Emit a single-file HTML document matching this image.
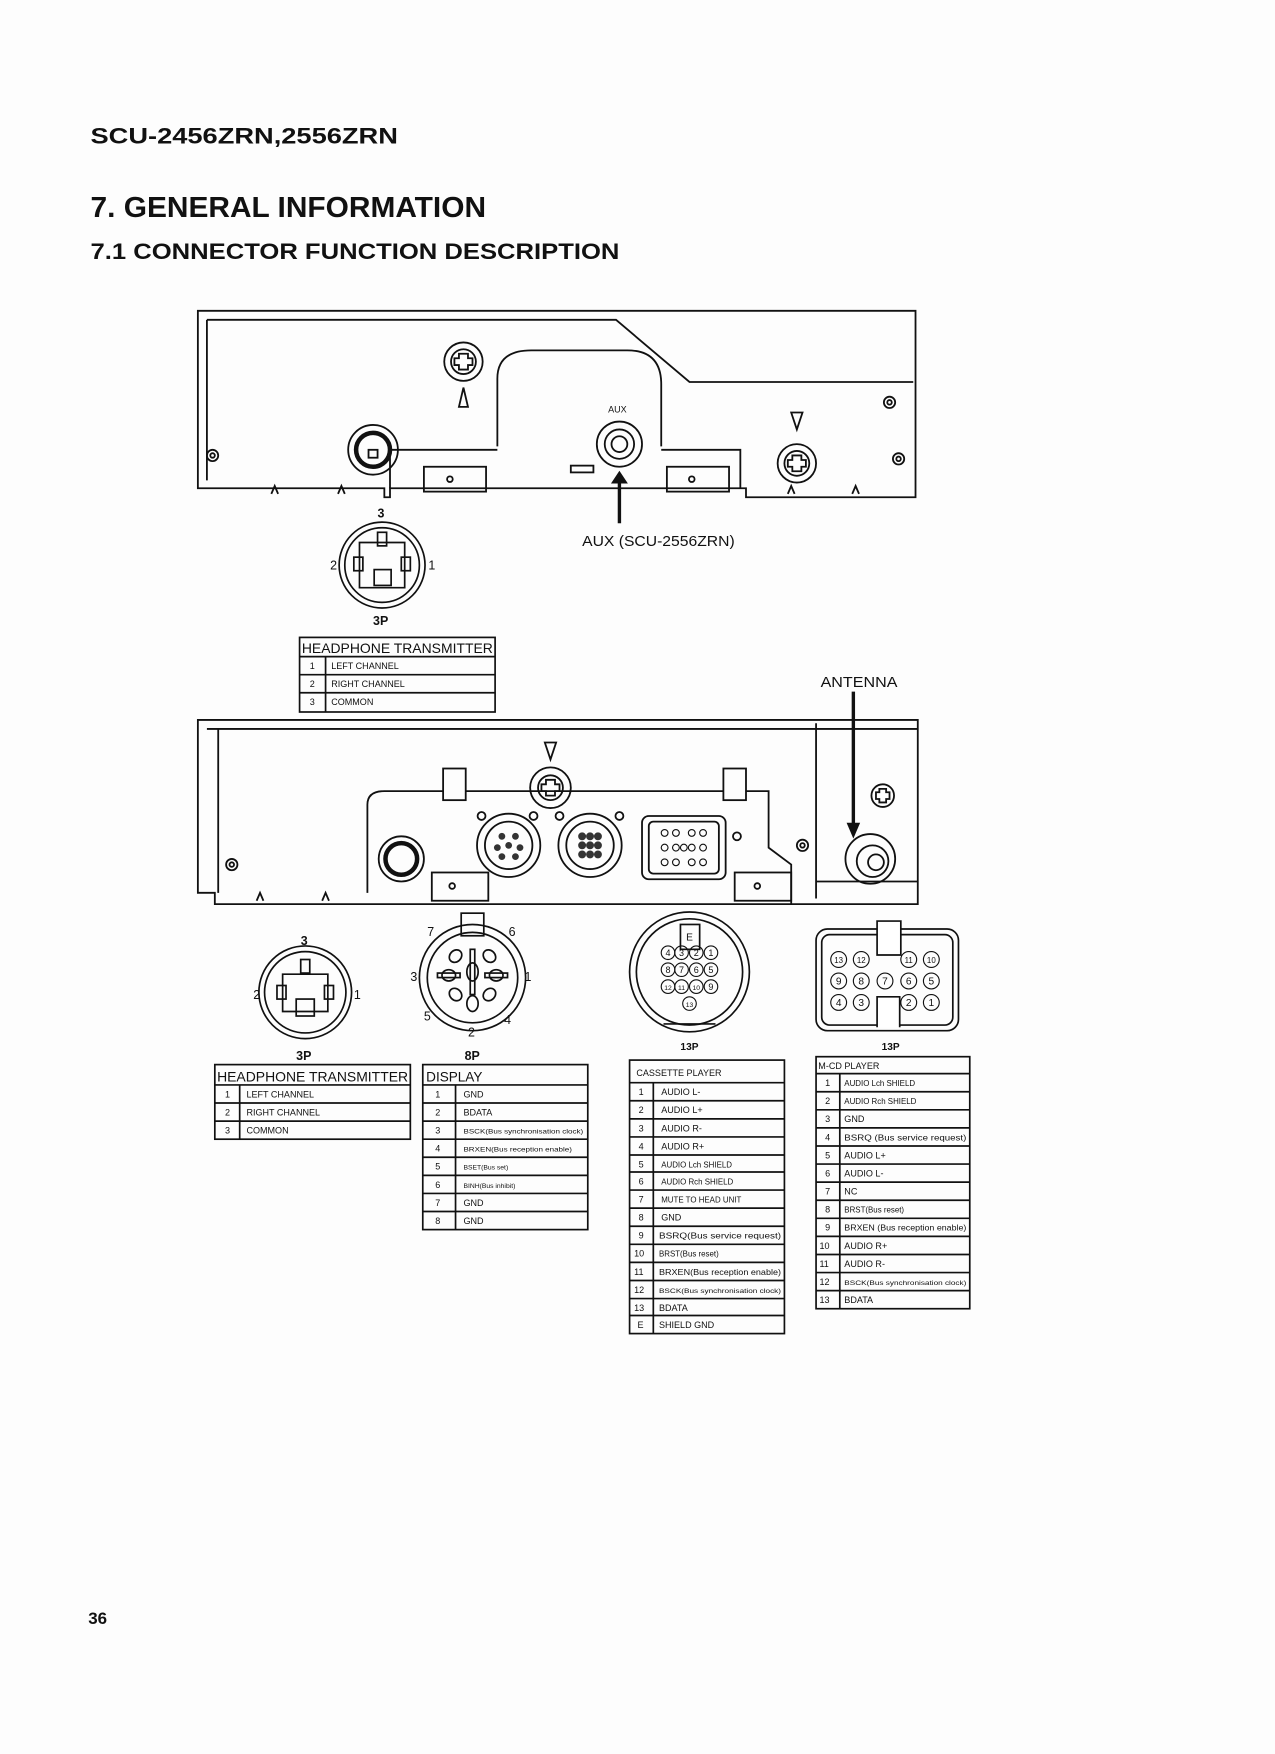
<!DOCTYPE html>
<html><head><meta charset="utf-8"><style>
html,body{margin:0;padding:0;background:#fff}
svg{display:block}
text{font-family:"Liberation Sans",sans-serif;fill:#111}
</style></head><body>
<svg width="1275" height="1754" viewBox="0 0 1128 1552" xmlns="http://www.w3.org/2000/svg">
<rect width="1128" height="1552" fill="#fdfdfd"/>
<text x="80" y="127" font-size="20" font-weight="bold" textLength="272" lengthAdjust="spacingAndGlyphs">SCU-2456ZRN,2556ZRN</text>
<text x="80" y="192" font-size="25" font-weight="bold" textLength="350" lengthAdjust="spacingAndGlyphs">7. GENERAL INFORMATION</text>
<text x="80" y="229" font-size="20" font-weight="bold" textLength="468" lengthAdjust="spacingAndGlyphs">7.1 CONNECTOR FUNCTION DESCRIPTION</text>

<!-- TOP CHASSIS -->
<g stroke="#111" fill="none" stroke-width="1.6">
<path d="M175 275 H810 V440 H660 V432 H345 V440 H340 V432 H175 Z"/>
<path d="M183 283 H545 L610 338 H808"/>
<path d="M183 283 V425"/>
<path d="M440 395 V335 Q440 310 470 310 H555 Q585 310 585 340 V395"/>
<path d="M345 432 V398 H440 M585 398 H655 V432"/>
<rect x="375" y="413" width="55" height="22"/><circle cx="398" cy="424" r="2.5"/>
<rect x="590" y="413" width="55" height="22"/><circle cx="612" cy="424" r="2.5"/>
<circle cx="410" cy="320" r="17"/><circle cx="410" cy="320" r="11"/>
<path d="M406 313 h8 v4 h4 v6 h-4 v4 h-8 v-4 h-4 v-6 h4 z"/>
<path d="M410 343 L406 360 H414 Z"/>
<circle cx="548" cy="393" r="20"/><circle cx="548" cy="393" r="13"/><circle cx="548" cy="393" r="7"/>
<path d="M548 425 V463" stroke-width="3"/>
<path d="M542 427 L548 418 L554 427 Z" fill="#111"/>
<circle cx="705" cy="410" r="17"/><circle cx="705" cy="410" r="11"/>
<path d="M701 403 h8 v4 h4 v6 h-4 v4 h-8 v-4 h-4 v-6 h4 z"/>
<path d="M700 365 H710 L705 380 Z"/>
<circle cx="188" cy="403" r="5"/><circle cx="188" cy="403" r="2"/>
<circle cx="787" cy="356" r="5"/><circle cx="787" cy="356" r="2"/>
<circle cx="795" cy="406" r="5"/><circle cx="795" cy="406" r="2"/>
<circle cx="330" cy="398" r="22"/><circle cx="330" cy="398" r="15" stroke-width="4"/>
<rect x="326" y="398" width="8" height="7"/>
<path d="M240 437 l3 -7 l3 7 M299 437 l3 -7 l3 7 M697 437 l3 -7 l3 7 M754 437 l3 -7 l3 7"/>
<rect x="505" y="412" width="20" height="6"/>
</g>
<text x="538" y="365" font-size="8">AUX</text>
<text x="515" y="483" font-size="13" textLength="135" lengthAdjust="spacingAndGlyphs">AUX (SCU-2556ZRN)</text>

<g stroke="#111" fill="none" stroke-width="1.5">
<circle cx="338" cy="500" r="38"/><circle cx="338" cy="500" r="33"/>
<path d="M318 480 H358 V520 H318 Z"/>
<rect x="334" y="471" width="8" height="12"/>
<rect x="313" y="493" width="8" height="12"/><rect x="355" y="493" width="8" height="12"/>
<rect x="331" y="504" width="15" height="14"/>
</g>
<text x="334" y="458" font-size="11" font-weight="bold">3</text>
<text x="292" y="504" font-size="11">2</text>
<text x="379" y="504" font-size="11">1</text>
<text x="330" y="553" font-size="11" font-weight="bold">3P</text>

<g stroke="#111" fill="none" stroke-width="1.5">
<rect x="265" y="564" width="173" height="66"/>
<path d="M265 581 H438 M265 597 H438 M265 613 H438 M288 581 V630"/>
</g>
<text x="267" y="578" font-size="12" textLength="169" lengthAdjust="spacingAndGlyphs">HEADPHONE TRANSMITTER</text>
<g font-size="8"><text x="274" y="592">1</text><text x="293" y="592">LEFT CHANNEL</text>
<text x="274" y="608">2</text><text x="293" y="608">RIGHT CHANNEL</text>
<text x="274" y="624">3</text><text x="293" y="624">COMMON</text></g>

<text x="726" y="608" font-size="13" textLength="68" lengthAdjust="spacingAndGlyphs">ANTENNA</text>
<path d="M755 612 V735" stroke="#111" stroke-width="3"/>
<path d="M749 728 L755 742 L761 728 Z" fill="#111"/>

<!-- BOTTOM CHASSIS -->
<g stroke="#111" fill="none" stroke-width="1.6">
<path d="M175 637 H812 V800 H190 V790 H175 Z"/>
<path d="M183 645 H812"/>
<path d="M193 645 V790 M722 640 V795 M722 780 H812"/>
<path d="M325 790 V712 Q325 700 340 700 H392 M412 700 H640 M660 700 H680 V750 L700 765 V800"/>
<rect x="392" y="680" width="20" height="28"/><rect x="640" y="680" width="20" height="28"/>
<rect x="382" y="772" width="50" height="25"/><circle cx="400" cy="784" r="2.5"/>
<rect x="650" y="772" width="50" height="25"/><circle cx="670" cy="784" r="2.5"/>
<circle cx="487" cy="697" r="18"/><circle cx="487" cy="697" r="11"/>
<path d="M483 690 h8 v4 h4 v6 h-4 v4 h-8 v-4 h-4 v-6 h4 z"/>
<path d="M482 657 H492 L487 672 Z"/>
<circle cx="355" cy="760" r="20"/><circle cx="355" cy="760" r="14" stroke-width="4"/>
<circle cx="450" cy="748" r="28"/><circle cx="450" cy="748" r="21"/>
<circle cx="522" cy="748" r="28"/><circle cx="522" cy="748" r="21"/>
<g fill="#333" stroke="none">
<circle cx="515" cy="740" r="3.5"/><circle cx="522" cy="740" r="3.5"/><circle cx="529" cy="740" r="3.5"/>
<circle cx="515" cy="748" r="3.5"/><circle cx="522" cy="748" r="3.5"/><circle cx="529" cy="748" r="3.5"/>
<circle cx="515" cy="756" r="3.5"/><circle cx="522" cy="756" r="3.5"/><circle cx="529" cy="756" r="3.5"/>
<circle cx="444" cy="740" r="3"/><circle cx="456" cy="740" r="3"/><circle cx="440" cy="750" r="3"/><circle cx="460" cy="750" r="3"/><circle cx="450" cy="748" r="3"/><circle cx="444" cy="758" r="3"/><circle cx="456" cy="758" r="3"/>
</g>
<rect x="568" y="722" width="74" height="56" rx="6"/><rect x="574" y="727" width="62" height="46" rx="4"/>
<g stroke-width="1"><circle cx="588" cy="737" r="3"/><circle cx="598" cy="737" r="3"/><circle cx="612" cy="737" r="3"/><circle cx="622" cy="737" r="3"/>
<circle cx="588" cy="750" r="3"/><circle cx="598" cy="750" r="3"/><circle cx="605" cy="750" r="3"/><circle cx="612" cy="750" r="3"/><circle cx="622" cy="750" r="3"/>
<circle cx="588" cy="763" r="3"/><circle cx="598" cy="763" r="3"/><circle cx="612" cy="763" r="3"/><circle cx="622" cy="763" r="3"/></g>
<circle cx="426" cy="722" r="3.5"/><circle cx="472" cy="722" r="3.5"/><circle cx="495" cy="722" r="3.5"/><circle cx="548" cy="722" r="3.5"/>
<circle cx="652" cy="740" r="3.5"/><circle cx="710" cy="748" r="5"/><circle cx="710" cy="748" r="2"/>
<circle cx="205" cy="765" r="5"/><circle cx="205" cy="765" r="2"/>
<circle cx="770" cy="760" r="22"/><circle cx="772" cy="762" r="14"/><circle cx="775" cy="763" r="7"/>
<circle cx="781" cy="704" r="10"/><path d="M778 698 h6 v3 h3 v6 h-3 v3 h-6 v-3 h-3 v-6 h3 z"/>
<path d="M227 797 l3 -7 l3 7 M285 797 l3 -7 l3 7"/>
</g>

<g stroke="#111" fill="none" stroke-width="1.5">
<circle cx="270" cy="878" r="41"/><circle cx="270" cy="878" r="36"/>
<path d="M250 862 H290 V895 H250 Z"/>
<rect x="266" y="849" width="8" height="12"/>
<rect x="245" y="872" width="8" height="12"/><rect x="287" y="872" width="8" height="12"/>
<rect x="262" y="884" width="16" height="15"/>
</g>
<text x="266" y="836" font-size="11" font-weight="bold">3</text>
<text x="224" y="884" font-size="11">2</text>
<text x="313" y="884" font-size="11">1</text>
<text x="262" y="938" font-size="11" font-weight="bold">3P</text>

<g stroke="#111" fill="none" stroke-width="1.5">
<circle cx="418" cy="865" r="47"/><circle cx="418" cy="865" r="40"/>
<rect x="408" y="808" width="20" height="20"/>
<ellipse cx="418" cy="860" rx="5" ry="8"/><rect x="416" y="840" width="4" height="40"/>
<ellipse cx="397" cy="863" rx="6" ry="5"/><rect x="387" y="861" width="20" height="4"/>
<ellipse cx="439" cy="863" rx="6" ry="5"/><rect x="429" y="861" width="20" height="4"/>
<ellipse cx="403" cy="846" rx="6" ry="5" transform="rotate(-45 403 846)"/><ellipse cx="433" cy="846" rx="6" ry="5" transform="rotate(45 433 846)"/>
<ellipse cx="403" cy="880" rx="6" ry="5" transform="rotate(45 403 880)"/><ellipse cx="433" cy="880" rx="6" ry="5" transform="rotate(-45 433 880)"/>
<ellipse cx="418" cy="888" rx="5" ry="7"/>
</g>
<g font-size="11"><text x="378" y="828">7</text><text x="450" y="828">6</text><text x="363" y="868">3</text><text x="464" y="868">1</text>
<text x="375" y="903">5</text><text x="446" y="906">4</text><text x="414" y="917">2</text></g>
<text x="411" y="938" font-size="11" font-weight="bold">8P</text>

<g stroke="#111" fill="none" stroke-width="1.5">
<circle cx="610" cy="860" r="53"/><circle cx="610" cy="860" r="47"/>
<rect x="602" y="818" width="17" height="22"/>
<path d="M587 906 H633"/>
</g>
<g stroke="#111" stroke-width="1" fill="none">
<circle cx="591" cy="843" r="6"/><circle cx="603" cy="843" r="6"/><circle cx="616" cy="843" r="6"/><circle cx="629" cy="843" r="6"/>
<circle cx="591" cy="858" r="6"/><circle cx="603" cy="858" r="6"/><circle cx="616" cy="858" r="6"/><circle cx="629" cy="858" r="6"/>
<circle cx="591" cy="873" r="6"/><circle cx="603" cy="873" r="6"/><circle cx="616" cy="873" r="6"/><circle cx="629" cy="873" r="6"/>
<circle cx="610" cy="888" r="6"/>
</g>
<g font-size="8" text-anchor="middle">
<text x="610" y="832" font-size="9">E</text>
<text x="591" y="846">4</text><text x="603" y="846">3</text><text x="616" y="846">2</text><text x="629" y="846">1</text>
<text x="591" y="861">8</text><text x="603" y="861">7</text><text x="616" y="861">6</text><text x="629" y="861">5</text>
<text x="591" y="876" font-size="6">12</text><text x="603" y="876" font-size="6">11</text><text x="616" y="876" font-size="6">10</text><text x="629" y="876">9</text>
<text x="610" y="891" font-size="6">13</text>
<text x="610" y="929" font-size="9" font-weight="bold">13P</text>
</g>

<g stroke="#111" fill="none" stroke-width="1.5">
<rect x="722" y="822" width="126" height="90" rx="10"/><rect x="727" y="827" width="116" height="80" rx="7"/>
<path d="M776 815 H797 V845 H776 Z" fill="#fff"/>
<path d="M776 909 V882 H796 V909" fill="#fff"/>
</g>
<g stroke="#111" stroke-width="1" fill="none">
<circle cx="742" cy="849" r="7"/><circle cx="762" cy="849" r="7"/><circle cx="804" cy="849" r="7"/><circle cx="824" cy="849" r="7"/>
<circle cx="742" cy="868" r="7"/><circle cx="762" cy="868" r="7"/><circle cx="783" cy="868" r="7"/><circle cx="804" cy="868" r="7"/><circle cx="824" cy="868" r="7"/>
<circle cx="742" cy="887" r="7"/><circle cx="762" cy="887" r="7"/><circle cx="804" cy="887" r="7"/><circle cx="824" cy="887" r="7"/>
</g>
<g font-size="9" text-anchor="middle">
<text x="742" y="852" font-size="7">13</text><text x="762" y="852" font-size="7">12</text><text x="804" y="852" font-size="7">11</text><text x="824" y="852" font-size="7">10</text>
<text x="742" y="871">9</text><text x="762" y="871">8</text><text x="783" y="871">7</text><text x="804" y="871">6</text><text x="824" y="871">5</text>
<text x="742" y="890">4</text><text x="762" y="890">3</text><text x="804" y="890">2</text><text x="824" y="890">1</text>
<text x="788" y="929" font-size="9" font-weight="bold">13P</text>
</g>

<g stroke="#111" fill="none" stroke-width="1.5">
<rect x="190" y="942" width="173" height="66"/>
<path d="M190 960 H363 M190 976 H363 M190 992 H363 M212 960 V1008"/>
</g>
<text x="192" y="957" font-size="12" textLength="169" lengthAdjust="spacingAndGlyphs">HEADPHONE TRANSMITTER</text>
<g font-size="8"><text x="199" y="971">1</text><text x="218" y="971">LEFT CHANNEL</text>
<text x="199" y="987">2</text><text x="218" y="987">RIGHT CHANNEL</text>
<text x="199" y="1003">3</text><text x="218" y="1003">COMMON</text></g>

<g stroke="#111" fill="none" stroke-width="1.5">
<rect x="374" y="942" width="146" height="146"/>
<path d="M374 960 H520 M374 976 H520 M374 992 H520 M374 1008 H520 M374 1024 H520 M374 1040 H520 M374 1056 H520 M374 1072 H520 M403 960 V1088"/>
</g>
<text x="377" y="957" font-size="12">DISPLAY</text>
<g font-size="8">
<text x="385" y="971">1</text><text x="410" y="971">GND</text>
<text x="385" y="987">2</text><text x="410" y="987">BDATA</text>
<text x="385" y="1003">3</text><text x="410" y="1003" font-size="6" textLength="106" lengthAdjust="spacingAndGlyphs">BSCK(Bus synchronisation clock)</text>
<text x="385" y="1019">4</text><text x="410" y="1019" font-size="6" textLength="96" lengthAdjust="spacingAndGlyphs">BRXEN(Bus reception enable)</text>
<text x="385" y="1035">5</text><text x="410" y="1035" font-size="6">BSET(Bus set)</text>
<text x="385" y="1051">6</text><text x="410" y="1051" font-size="6">BINH(Bus inhibit)</text>
<text x="385" y="1067">7</text><text x="410" y="1067">GND</text>
<text x="385" y="1083">8</text><text x="410" y="1083">GND</text>
</g>

<g stroke="#111" fill="none" stroke-width="1.5">
<rect x="557" y="938" width="137" height="242"/>
<path d="M557 958 H694 M557 974 H694 M557 990 H694 M557 1006 H694 M557 1022 H694 M557 1037 H694 M557 1053 H694 M557 1069 H694 M557 1085 H694 M557 1101 H694 M557 1117 H694 M557 1133 H694 M557 1149 H694 M557 1164 H694 M578 958 V1180"/>
</g>
<text x="563" y="952" font-size="8">CASSETTE PLAYER</text>
<g font-size="8">
<text x="565" y="969">1</text><text x="585" y="969">AUDIO L-</text>
<text x="565" y="985">2</text><text x="585" y="985">AUDIO L+</text>
<text x="565" y="1001">3</text><text x="585" y="1001">AUDIO R-</text>
<text x="565" y="1017">4</text><text x="585" y="1017">AUDIO R+</text>
<text x="565" y="1033">5</text><text x="585" y="1033" font-size="7">AUDIO Lch SHIELD</text>
<text x="565" y="1048">6</text><text x="585" y="1048" font-size="7">AUDIO Rch SHIELD</text>
<text x="565" y="1064">7</text><text x="585" y="1064" font-size="7">MUTE TO HEAD UNIT</text>
<text x="565" y="1080">8</text><text x="585" y="1080">GND</text>
<text x="565" y="1096">9</text><text x="583" y="1096" font-size="7" textLength="108" lengthAdjust="spacingAndGlyphs">BSRQ(Bus service request)</text>
<text x="561" y="1112">10</text><text x="583" y="1112" font-size="7">BRST(Bus reset)</text>
<text x="561" y="1128">11</text><text x="583" y="1128" font-size="7" textLength="108" lengthAdjust="spacingAndGlyphs">BRXEN(Bus reception enable)</text>
<text x="561" y="1144">12</text><text x="583" y="1144" font-size="6" textLength="108" lengthAdjust="spacingAndGlyphs">BSCK(Bus synchronisation clock)</text>
<text x="561" y="1160">13</text><text x="583" y="1160">BDATA</text>
<text x="564" y="1175">E</text><text x="583" y="1175">SHIELD GND</text>
</g>

<g stroke="#111" fill="none" stroke-width="1.5">
<rect x="722" y="935" width="136" height="223"/>
<path d="M722 950 H858 M722 966 H858 M722 982 H858 M722 998 H858 M722 1014 H858 M722 1030 H858 M722 1046 H858 M722 1062 H858 M722 1078 H858 M722 1094 H858 M722 1110 H858 M722 1126 H858 M722 1142 H858 M743 950 V1158"/>
</g>
<text x="724" y="946" font-size="8">M-CD PLAYER</text>
<g font-size="8">
<text x="730" y="961">1</text><text x="747" y="961" font-size="7">AUDIO Lch SHIELD</text>
<text x="730" y="977">2</text><text x="747" y="977" font-size="7">AUDIO Rch SHIELD</text>
<text x="730" y="993">3</text><text x="747" y="993">GND</text>
<text x="730" y="1009">4</text><text x="747" y="1009" font-size="7" textLength="108" lengthAdjust="spacingAndGlyphs">BSRQ (Bus service request)</text>
<text x="730" y="1025">5</text><text x="747" y="1025">AUDIO L+</text>
<text x="730" y="1041">6</text><text x="747" y="1041">AUDIO L-</text>
<text x="730" y="1057">7</text><text x="747" y="1057">NC</text>
<text x="730" y="1073">8</text><text x="747" y="1073" font-size="7">BRST(Bus reset)</text>
<text x="730" y="1089">9</text><text x="747" y="1089" font-size="7" textLength="108" lengthAdjust="spacingAndGlyphs">BRXEN (Bus reception enable)</text>
<text x="725" y="1105">10</text><text x="747" y="1105">AUDIO R+</text>
<text x="725" y="1121">11</text><text x="747" y="1121">AUDIO R-</text>
<text x="725" y="1137">12</text><text x="747" y="1137" font-size="6" textLength="108" lengthAdjust="spacingAndGlyphs">BSCK(Bus synchronisation clock)</text>
<text x="725" y="1153">13</text><text x="747" y="1153">BDATA</text>
</g>

<text x="78" y="1437" font-size="15" font-weight="bold">36</text>
</svg>
</body></html>
